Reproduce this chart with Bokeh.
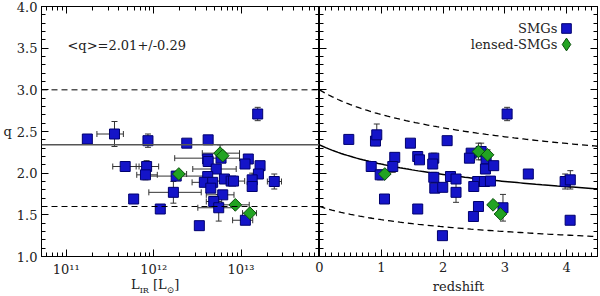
import math
from bokeh.plotting import figure
from bokeh.layouts import row, column
from bokeh.models import (ColumnDataSource, Whisker, TeeHead, Span, Label, Legend, LegendItem,
                          LinearAxis, LogAxis, Range1d, FixedTicker, NumeralTickFormatter, Div)
from bokeh.embed import file_html
from bokeh.resources import INLINE

# ---------------- data: left panel (q vs L_IR) ----------------
L_smg = [1.74e11, 3.56e11, 8.6e11, 2.39e12, 4.2e12, 1.55e13, 4.15e12, 4.2e12, 5.9e12, 1.21e13,
         1.11e13, 1.65e13, 5.2e12, 1.58e13, 1.81e12, 4.15e12, 3.8e12, 4.73e12, 6.45e12, 7.7e12,
         8.2e12, 1.34e13, 1.34e13, 2.4e13, 4.5e12, 1.68e12, 6.17e12, 4.86e12, 5.55e12, 1.12e13,
         3.33e12, 4.72e11, 8.3e11, 8.05e11, 5.9e11, 1.19e12]
q_smg_L = [2.41, 2.47, 2.39, 2.36, 2.40, 2.71, 2.17, 2.14, 2.18, 2.17,
           2.11, 2.09, 2.05, 1.99, 1.965, 1.96, 1.89, 1.89, 1.93, 1.905,
           1.905, 1.92, 1.84, 1.90, 1.82, 1.77, 1.74, 1.66, 1.585, 1.435,
           1.37, 2.08, 2.08, 1.98, 1.69, 1.57]
qerr_smg_L = [0.04, 0.15, 0.08, 0.04, 0.05, 0.08, 0.0, 0.03, 0.0, 0.0,
              0.04, 0.0, 0.0, 0.0, 0.03, 0.04, 0.0, 0.0, 0.0, 0.0,
              0.0, 0.08, 0.0, 0.09, 0.0, 0.13, 0.0, 0.0, 0.16, 0.0,
              0.0, 0.06, 0.07, 0.06, 0.0, 0.0]
L_lo_smg = [None, 2.24e11, None, None, None, None, None, None, 1.74e12, None,
            None, None, 2.8e12, None, 9.1e11, None, 2.75e12, None, None, 5.0e12,
            None, None, None, 2.0e13, None, 8.8e11, 4.0e12, 4.0e12, 3.2e12, 8.0e12,
            None, 3.4e11, 6.3e11, 6.4e11, None, None]
L_hi_smg = [None, 4.5e11, None, None, None, None, None, None, 9.6e12, None,
            None, None, 8.8e12, None, 4.0e12, None, 5.25e12, None, None, 1.1e13,
            None, None, None, 2.9e13, None, 3.5e12, 8.3e12, 6.0e12, 8.4e12, 1.36e13,
            None, 6.8e11, 1.14e12, 1.1e12, None, None]

L_lens = [5.75e12, 6.17e12, 1.94e12, 8.6e12, 1.26e13]
q_lens_L = [2.24, 2.21, 1.99, 1.62, 1.52]
qerr_lens_L = [0.10, 0.04, 0.03, 0.03, 0.03]
L_lo_lens = [3.6e12, None, 1.65e12, 6.2e12, 1.04e13]
L_hi_lens = [9.6e12, None, 2.38e12, 1.24e13, 1.5e13]

q_mean_line = 2.34
q_band = [3.0, 1.6]
mean_text = "<q>=2.01+/-0.29"

# ---------------- data: right panel (q vs redshift) ----------------
z_smg = [0.474, 0.906, 0.927, 1.472, 2.066, 1.218, 1.59, 1.618, 1.85, 1.833,
         0.837, 1.186, 0.982, 1.85, 2.12, 2.21, 1.866, 1.995, 2.21, 1.052,
         1.59, 1.99, 3.037, 2.455, 2.427, 2.617, 2.697, 2.686, 2.82, 3.38,
         2.56, 2.67, 2.767, 2.497, 3.976, 4.06, 2.573, 2.97, 2.492, 4.057]
q_smg_z = [2.405, 2.385, 2.46, 2.36, 2.39, 2.19, 2.20, 2.16, 2.18, 2.11,
           2.08, 2.08, 1.98, 1.95, 1.96, 1.93, 1.82, 1.83, 1.77, 1.69,
           1.57, 1.25, 2.71, 2.24, 2.18, 2.26, 2.17, 2.05, 2.09, 1.99,
           1.90, 1.90, 1.905, 1.84, 1.90, 1.92, 1.60, 1.585, 1.48, 1.435]
qerr_smg_z = [0.04, 0.05, 0.13, 0.04, 0.05, 0.0, 0.0, 0.0, 0.06, 0.04,
              0.06, 0.07, 0.06, 0.06, 0.0, 0.0, 0.0, 0.0, 0.12, 0.0,
              0.0, 0.0, 0.08, 0.0, 0.0, 0.10, 0.0, 0.0, 0.0, 0.0,
              0.0, 0.0, 0.0, 0.0, 0.09, 0.11, 0.05, 0.16, 0.05, 0.0]
z_lens = [2.573, 2.72, 1.057, 2.81, 2.93]
q_lens_z = [2.26, 2.22, 1.99, 1.62, 1.51]
qerr_lens_z = [0.10, 0.06, 0.03, 0.03, 0.04]

# fitted relation q(z) = q0 * (1+z)^slope  (centre, upper, lower envelope)
fit_q0 = [2.34, 3.0, 1.6]
fit_slope = -0.15
z_grid = [i * 0.05 for i in range(91)]

legend_labels = ["SMGs", "lensed-SMGs"]

# ---------------- styling ----------------
FONT = "DejaVu Serif"
FS = "13px"
FW1, FW2, FH = 278, 278, 250
BLUE, BLUE_EDGE = "#1414c8", "#00006e"
GREEN, GREEN_EDGE = "#22a322", "#0b4f0b"
ERR = "#333333"

y_major = [1.0, 1.5, 2.0, 2.5, 3.0, 3.5, 4.0]
y_minor = [round(1.0 + 0.1 * i, 2) for i in range(31)]
lx_major = [10**11, 10**12, 10**13]
lx_minor = [k * 10.0**e for e in range(10, 14) for k in range(2, 10)]
z_major = [0, 1, 2, 3, 4]
z_minor = [round(0.1 * i, 2) for i in range(46)]


def style_axis(ax, labels=True):
    ax.axis_line_color = "black"
    ax.axis_line_width = 1
    ax.major_tick_in = 7
    ax.major_tick_out = 0
    ax.minor_tick_in = 4
    ax.minor_tick_out = 0
    ax.major_tick_line_color = "black"
    ax.minor_tick_line_color = "black"
    ax.major_label_text_font = FONT
    ax.major_label_text_font_size = FS
    ax.major_label_text_color = "#222222"
    ax.axis_label_text_font = FONT
    ax.axis_label_text_font_size = FS
    ax.axis_label_text_font_style = "normal"
    ax.axis_label_text_color = "#222222"
    ax.major_label_standoff = 5
    ax.axis_label_standoff = 4
    if not labels:
        ax.major_label_text_font_size = "1px"
        ax.major_label_text_alpha = 0
        ax.major_label_standoff = 0
        ax.axis_label_standoff = 0


def yticker():
    return FixedTicker(ticks=y_major, minor_ticks=y_minor)


def sel(xs, ys, es):
    xx, lo, hi = [], [], []
    for x, y, e in zip(xs, ys, es):
        if e and e > 0:
            xx.append(x); lo.append(y - e); hi.append(y + e)
    return dict(base=xx, lower=lo, upper=hi)


def selx(ys, los, his):
    bb, lo, hi = [], [], []
    for y, l, h in zip(ys, los, his):
        if l is not None and h is not None:
            bb.append(y); lo.append(l); hi.append(h)
    return dict(base=bb, lower=lo, upper=hi)


def add_whisker(p, data, dim):
    w = Whisker(source=ColumnDataSource(data), base="base", lower="lower", upper="upper",
                dimension=dim, line_color=ERR, line_width=1, level="underlay",
                upper_head=TeeHead(size=6, line_color=ERR, line_width=1),
                lower_head=TeeHead(size=6, line_color=ERR, line_width=1))
    p.add_layout(w)


# ---------------- left panel ----------------
p1 = figure(x_axis_type="log", x_range=Range1d(5.2e10, 7.9e13), y_range=Range1d(1.0, 4.0),
            frame_width=FW1, frame_height=FH, min_border_left=10, min_border_right=0,
            min_border_top=6, min_border_bottom=38, output_backend="svg", toolbar_location=None)
p1.xgrid.visible = False
p1.ygrid.visible = False
p1.outline_line_color = "black"

style_axis(p1.xaxis[0])
p1.xaxis.ticker = FixedTicker(ticks=lx_major, minor_ticks=lx_minor)
p1.xaxis.major_label_overrides = {10**11: "10¹¹", 10**12: "10¹²", 10**13: "10¹³"}
style_axis(p1.yaxis[0])
p1.yaxis.ticker = yticker()
p1.yaxis.formatter = NumeralTickFormatter(format="0.0")
p1.yaxis.major_label_standoff = 4
p1.yaxis.axis_label = "q"
p1.yaxis.axis_label_standoff = 2
p1.yaxis.axis_label_orientation = "horizontal"

ax = LogAxis(ticker=FixedTicker(ticks=lx_major, minor_ticks=lx_minor))
style_axis(ax, labels=False)
p1.add_layout(ax, "above")
ax = LinearAxis(ticker=yticker())
style_axis(ax, labels=False)
p1.add_layout(ax, "right")

p1.add_layout(Span(location=q_mean_line, dimension="width", line_color="#555555", line_width=1.5))
for qb in q_band:
    p1.add_layout(Span(location=qb, dimension="width", line_color="black", line_width=1,
                       line_dash="6 4"))

add_whisker(p1, sel(L_smg, q_smg_L, qerr_smg_L), "height")
add_whisker(p1, selx(q_smg_L, L_lo_smg, L_hi_smg), "width")
add_whisker(p1, sel(L_lens, q_lens_L, qerr_lens_L), "height")
add_whisker(p1, selx(q_lens_L, L_lo_lens, L_hi_lens), "width")

p1.scatter(x=L_smg, y=q_smg_L, marker="square", size=10, fill_color=BLUE, line_color=BLUE_EDGE)
p1.scatter(x=L_lens, y=q_lens_L, marker="square", size=9, angle=math.pi / 4,
           fill_color=GREEN, line_color=GREEN_EDGE)

p1.add_layout(Label(x=1.03e11, y=3.53, text=mean_text, text_font=FONT, text_font_size=FS,
                    text_align="left", text_baseline="middle", text_color="#222222"))

# ---------------- right panel ----------------
p2 = figure(x_range=Range1d(0, 4.5), y_range=Range1d(1.0, 4.0),
            frame_width=FW2, frame_height=FH, min_border_left=8, min_border_right=2,
            min_border_top=6, min_border_bottom=38, output_backend="svg", toolbar_location=None,
            border_fill_alpha=0, styles={"margin-left": "-8px"})
p2.xgrid.visible = False
p2.ygrid.visible = False
p2.outline_line_color = "black"

style_axis(p2.xaxis[0])
p2.xaxis.ticker = FixedTicker(ticks=z_major, minor_ticks=z_minor)
p2.xaxis.axis_label = "redshift"
style_axis(p2.yaxis[0], labels=False)
p2.yaxis.ticker = yticker()

ax = LinearAxis(ticker=FixedTicker(ticks=z_major, minor_ticks=z_minor))
style_axis(ax, labels=False)
p2.add_layout(ax, "above")
ax = LinearAxis(ticker=yticker())
style_axis(ax, labels=False)
p2.add_layout(ax, "right")

for i, q0 in enumerate(fit_q0):
    qs = [q0 * (1 + z) ** fit_slope for z in z_grid]
    if i == 0:
        p2.line(z_grid, qs, line_color="black", line_width=1.5)
    else:
        p2.line(z_grid, qs, line_color="black", line_width=1.3, line_dash="6 4")

add_whisker(p2, sel(z_smg, q_smg_z, qerr_smg_z), "height")
add_whisker(p2, sel(z_lens, q_lens_z, qerr_lens_z), "height")

rb2 = p2.scatter(x=z_smg, y=q_smg_z, marker="square", size=10, fill_color=BLUE,
                 line_color=BLUE_EDGE)
rg2 = p2.scatter(x=z_lens, y=q_lens_z, marker="square", size=9, angle=math.pi / 4,
                 fill_color=GREEN, line_color=GREEN_EDGE)
# hidden twin of the lensed sample, used only to draw a diamond legend key
rg_key = p2.scatter(x=z_lens, y=q_lens_z, marker="diamond", fill_color=GREEN,
                    line_color=GREEN_EDGE, visible=False)

# legend: text to the left of the symbol
px_per_q = FH / 3.0
leg_q = [3.74, 3.54]
leg_z_sym = 4.0
leg_z_txt = 3.85
for rend, qq, gh in [(rb2, leg_q[0], 24), (rg_key, leg_q[1], 32)]:
    cy = (qq - 1.0) * px_per_q
    cx = leg_z_sym / 4.5 * FW2
    lg = Legend(items=[LegendItem(label=" ", renderers=[rend], index=0)],
                location=(int(round(cx - gh / 2)), int(round(cy - gh / 2))),
                padding=0, margin=0, glyph_width=gh, glyph_height=gh, label_width=0,
                label_standoff=0, border_line_color=None, background_fill_alpha=0,
                inactive_fill_alpha=0, label_text_font_size="10px")
    p2.add_layout(lg)
for txt, qq in zip(legend_labels, leg_q):
    p2.add_layout(Label(x=leg_z_txt, y=qq, text=txt, text_font=FONT, text_font_size=FS,
                        text_align="right", text_baseline="middle", text_color="#222222"))

# x-axis title of the left panel, with subscripts:  L_IR [L_sun]
xtitle = Div(text='L<sub style="font-size:8px">IR</sub> [L<sub style="font-size:9px">⊙</sub>]',
             width=80, height=16,
             styles={"margin-top": "-18px", "margin-left": "131px", "font-family": FONT,
                     "font-size": "13px", "line-height": "14px", "color": "#222222",
                     "white-space": "nowrap"})

layout = column(row(p1, p2), xtitle)
open("out.html", "w").write(file_html(layout, INLINE))
